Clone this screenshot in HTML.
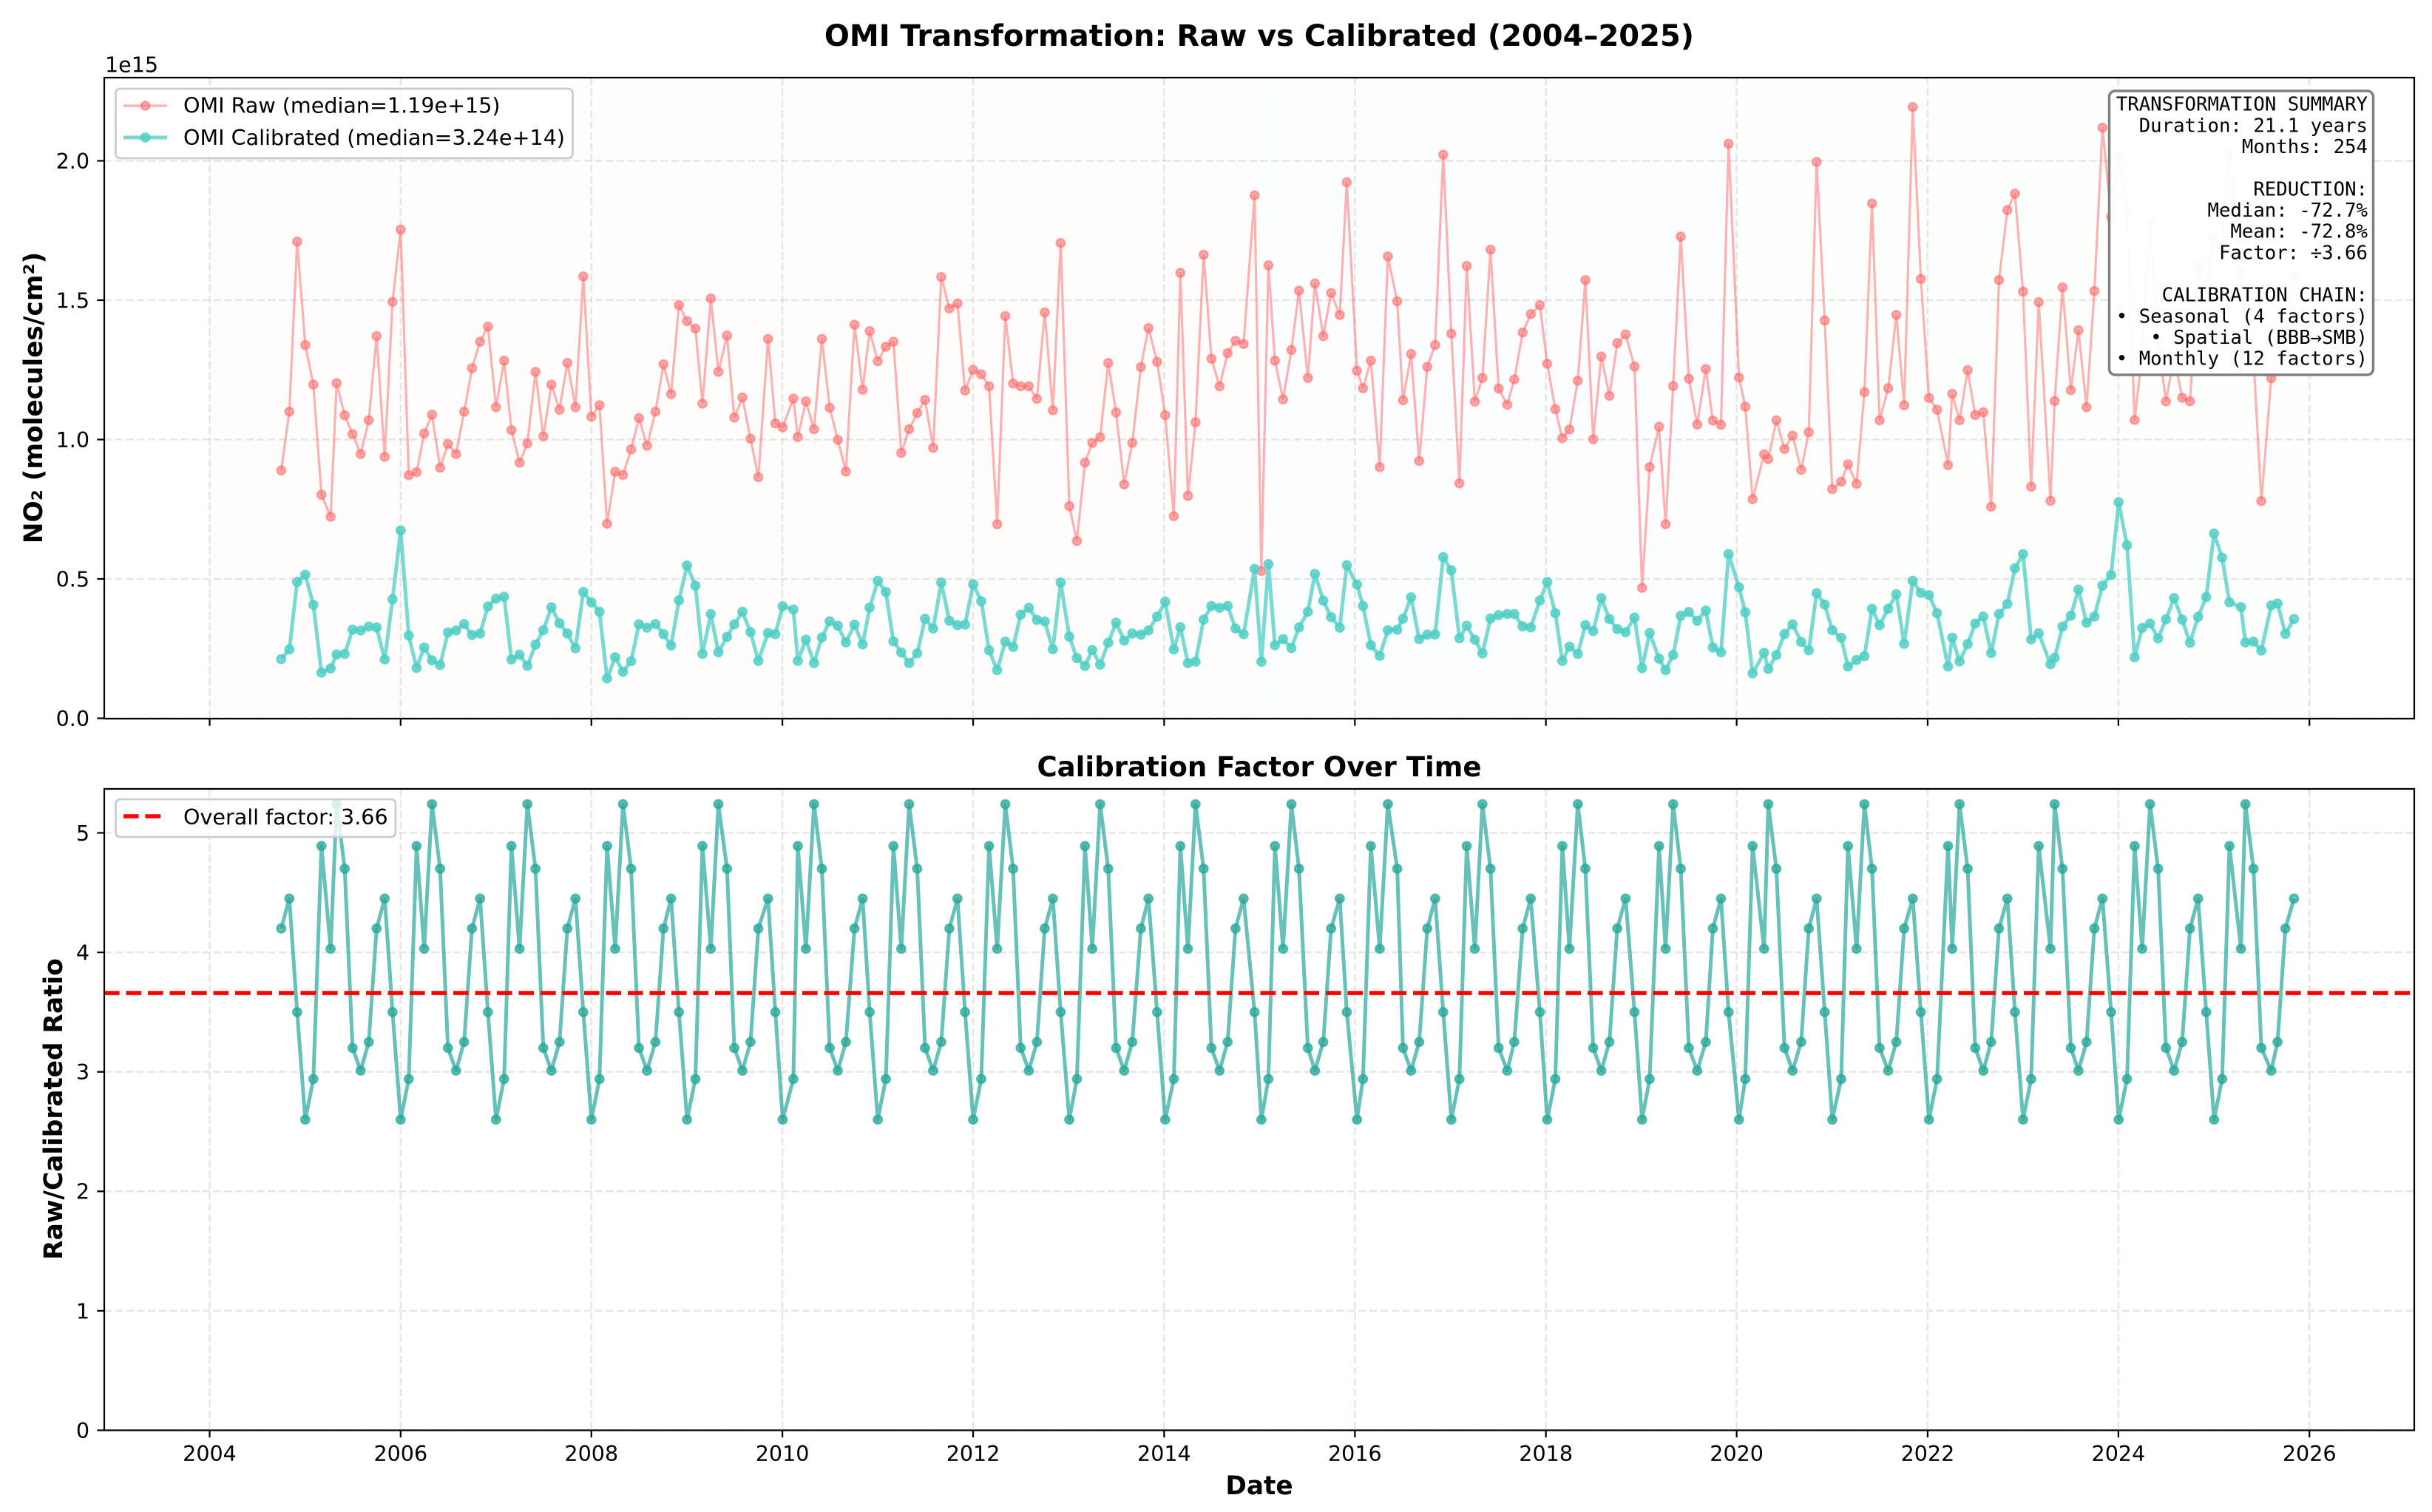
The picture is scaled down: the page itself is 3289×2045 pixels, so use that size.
<!DOCTYPE html>
<html lang="en">
<head>
<meta charset="utf-8">
<title>OMI Transformation: Raw vs Calibrated (2004–2025)</title>
<style>
html,body{margin:0;padding:0;background:#fff;}
svg{display:block;}
text{font-family:"DejaVu Sans","Liberation Sans",sans-serif;fill:#000;}
.mono{font-family:"DejaVu Sans Mono","Liberation Mono",monospace;font-size:25.7px;text-anchor:end;}
</style>
</head>
<body>
<svg id="chart" xmlns="http://www.w3.org/2000/svg" width="3289" height="2045" viewBox="0 0 3289 2045">
<rect x="0" y="0" width="3289" height="2045" fill="#fff"/>
<text x="1703" y="62" text-anchor="middle" font-size="40" font-weight="bold">OMI Transformation: Raw vs Calibrated (2004–2025)</text>
<g id="top-back"></g>
<g id="top-marks"></g>
<g id="top-axes"></g>
<text x="142" y="97.5" font-size="28.57">1e15</text>
<text transform="translate(45,538) rotate(-90)" y="12" text-anchor="middle" font-size="34.3" font-weight="bold">NO₂ (molecules/cm²)</text>

<g>
<rect x="156.5" y="120" width="618" height="94" rx="6" ry="6" fill="#fff" fill-opacity="0.8" stroke="#cccccc" stroke-width="2.8"/>
<g>
<line x1="167" y1="143" x2="226" y2="143" stroke="#FF6B6B" stroke-opacity="0.52" stroke-width="3.2"/>
<circle cx="196.5" cy="143" r="5.55" fill="#FF6B6B" fill-opacity="0.55" stroke="#FF6B6B" stroke-opacity="0.55" stroke-width="2.86"/>
<text x="248" y="152.7" font-size="28.57">OMI Raw (median=1.19e+15)</text>
</g>
<g>
<line x1="167" y1="186" x2="226" y2="186" stroke="#4ECDC4" stroke-opacity="0.75" stroke-width="5"/>
<circle cx="196.5" cy="186" r="5.55" fill="#4ECDC4" fill-opacity="0.75" stroke="#4ECDC4" stroke-opacity="0.75" stroke-width="2.86"/>
<text x="248" y="196.2" font-size="28.57">OMI Calibrated (median=3.24e+14)</text>
</g>
</g>

<g>
<rect x="2852.5" y="123" width="357" height="384" rx="8" ry="8" fill="#fff" fill-opacity="0.95" stroke="#808080" stroke-width="3.5"/>
<text class="mono" x="3202" y="149.7">TRANSFORMATION SUMMARY</text>
<text class="mono" x="3202" y="178.4">Duration: 21.1 years</text>
<text class="mono" x="3202" y="207">Months: 254</text>
<text class="mono" x="3202" y="264.4">REDUCTION:</text>
<text class="mono" x="3202" y="293">Median: -72.7%</text>
<text class="mono" x="3202" y="321.7">Mean: -72.8%</text>
<text class="mono" x="3202" y="350.4">Factor: ÷3.66</text>
<text class="mono" x="3202" y="407.7">CALIBRATION CHAIN:</text>
<text class="mono" x="3202" y="436.4">• Seasonal (4 factors)</text>
<text class="mono" x="3202" y="465">• Spatial (BBB→SMB)</text>
<text class="mono" x="3202" y="493.7">• Monthly (12 factors)</text>
</g>

<text x="1703" y="1050" text-anchor="middle" font-size="37.1" font-weight="bold">Calibration Factor Over Time</text>
<g id="bottom-back"></g>
<g id="bottom-marks"></g>
<g id="bottom-axes"></g>
<text transform="translate(72,1500) rotate(-90)" y="12" text-anchor="middle" font-size="34.3" font-weight="bold">Raw/Calibrated Ratio</text>
<text x="1703" y="2021" text-anchor="middle" font-size="34.3" font-weight="bold">Date</text>

<g>
<rect x="156.5" y="1081" width="378.5" height="51" rx="6" ry="6" fill="#fff" fill-opacity="0.8" stroke="#cccccc" stroke-width="2.8"/>
<g>
<line x1="167" y1="1104" x2="226" y2="1104" stroke="#ff0000" stroke-width="5.56" stroke-dasharray="20.6 8.9"/>
<text x="248" y="1115" font-size="28.57">Overall factor: 3.66</text>
</g>
</g>
</svg>

<script>
const dates = [
"2004-10-01","2004-11-01","2004-12-01",
"2005-01-01","2005-02-01","2005-03-04","2005-04-08","2005-05-01","2005-06-01","2005-07-01","2005-08-01","2005-09-01","2005-10-01","2005-11-01","2005-12-01",
"2006-01-01","2006-02-01","2006-03-03","2006-04-01","2006-05-01","2006-06-01","2006-07-01","2006-08-01","2006-09-01","2006-10-01","2006-11-01","2006-12-01",
"2007-01-01","2007-02-01","2007-03-01","2007-04-01","2007-05-01","2007-06-01","2007-07-01","2007-08-01","2007-09-01","2007-10-01","2007-11-01","2007-12-01",
"2008-01-01","2008-02-01","2008-03-01","2008-04-01","2008-05-01","2008-06-01","2008-07-01","2008-08-01","2008-09-02","2008-10-03","2008-11-01","2008-12-01",
"2009-01-01","2009-02-02","2009-03-01","2009-04-02","2009-05-01","2009-06-03","2009-07-01","2009-08-01","2009-09-01","2009-10-01","2009-11-07","2009-12-05",
"2010-01-02","2010-02-12","2010-03-01","2010-04-01","2010-05-02","2010-06-01","2010-07-01","2010-08-01","2010-09-01","2010-10-04","2010-11-04","2010-12-01",
"2011-01-01","2011-02-01","2011-03-02","2011-04-01","2011-05-01","2011-06-01","2011-07-01","2011-08-01","2011-09-01","2011-10-02","2011-11-02","2011-12-01",
"2012-01-01","2012-02-01","2012-03-02","2012-04-02","2012-05-03","2012-06-02","2012-07-01","2012-08-01","2012-09-01","2012-10-01","2012-11-01","2012-12-01",
"2013-01-03","2013-02-01","2013-03-04","2013-04-01","2013-05-01","2013-06-01","2013-07-01","2013-08-01","2013-09-01","2013-10-04","2013-11-02","2013-12-05",
"2014-01-05","2014-02-07","2014-03-04","2014-04-02","2014-05-01","2014-06-01","2014-07-01","2014-08-01","2014-09-01","2014-10-01","2014-11-01","2014-12-13",
"2015-01-08","2015-02-04","2015-03-01","2015-04-01","2015-05-03","2015-06-01","2015-07-05","2015-08-01","2015-09-02","2015-10-02","2015-11-04","2015-12-01",
"2016-01-09","2016-02-01","2016-03-02","2016-04-05","2016-05-06","2016-06-11","2016-07-03","2016-08-03","2016-09-03","2016-10-04","2016-11-03","2016-12-04",
"2017-01-04","2017-02-04","2017-03-04","2017-04-04","2017-05-03","2017-06-03","2017-07-04","2017-08-06","2017-09-02","2017-10-04","2017-11-04","2017-12-09",
"2018-01-06","2018-02-06","2018-03-05","2018-04-01","2018-05-03","2018-06-01","2018-07-01","2018-08-01","2018-09-01","2018-10-01","2018-11-02","2018-12-06",
"2019-01-04","2019-02-02","2019-03-10","2019-04-04","2019-05-03","2019-06-01","2019-07-02","2019-08-03","2019-09-05","2019-10-02","2019-11-02","2019-12-01",
"2020-01-10","2020-02-03","2020-03-02","2020-04-15","2020-05-01","2020-06-01","2020-07-02","2020-08-02","2020-09-04","2020-10-03","2020-11-02","2020-12-03",
"2021-01-01","2021-02-04","2021-03-02","2021-04-04","2021-05-04","2021-06-02","2021-07-01","2021-08-03","2021-09-03","2021-10-03","2021-11-05","2021-12-06",
"2022-01-06","2022-02-06","2022-03-20","2022-04-05","2022-05-03","2022-06-03","2022-07-02","2022-08-02","2022-09-01","2022-10-01","2022-11-02","2022-12-01",
"2023-01-01","2023-02-01","2023-03-02","2023-04-16","2023-05-02","2023-06-01","2023-07-03","2023-08-01","2023-09-01","2023-10-01","2023-11-01","2023-12-04",
"2024-01-02","2024-02-03","2024-03-03","2024-04-01","2024-05-01","2024-06-01","2024-07-01","2024-08-01","2024-09-01","2024-10-01","2024-11-01","2024-12-02",
"2025-01-01","2025-02-01","2025-03-01","2025-04-14","2025-05-01","2025-06-01","2025-07-01","2025-08-08","2025-09-01","2025-10-01","2025-11-03"
];
/* NO2 columns in units of 1e15 molecules/cm2 */
const rawValues = [
.889,1.100,1.710,
1.339,1.197,.802,.723,1.202,1.087,1.019,.948,1.069,1.371,.938,1.494,
1.753,.872,.883,1.022,1.089,.899,.984,.948,1.100,1.256,1.351,1.405,
1.116,1.283,1.034,.917,.986,1.243,1.011,1.197,1.107,1.275,1.116,1.585,
1.082,1.123,.698,.884,.873,.965,1.077,.978,1.100,1.270,1.163,1.482,
1.425,1.398,1.129,1.506,1.243,1.373,1.079,1.151,1.003,.865,1.361,1.058,
1.044,1.147,1.009,1.137,1.037,1.361,1.114,.999,.885,1.412,1.179,1.389,
1.281,1.333,1.351,.952,1.037,1.095,1.142,.970,1.583,1.470,1.488,1.176,
1.250,1.234,1.191,.696,1.443,1.201,1.191,1.191,1.146,1.456,1.105,1.705,
.761,.636,.917,.988,1.008,1.275,1.097,.839,.988,1.260,1.400,1.279,
1.088,.725,1.598,.798,1.062,1.663,1.290,1.191,1.310,1.354,1.343,1.876,
.528,1.625,1.283,1.144,1.321,1.534,1.221,1.560,1.371,1.526,1.447,1.923,
1.247,1.184,1.283,.901,1.657,1.496,1.141,1.307,.923,1.261,1.339,2.022,
1.380,.843,1.623,1.136,1.221,1.681,1.183,1.125,1.216,1.384,1.450,1.482,
1.272,1.109,1.005,1.036,1.211,1.572,1.001,1.298,1.157,1.346,1.377,1.262,
.468,.901,1.046,.696,1.192,1.728,1.218,1.054,1.253,1.068,1.053,2.061,
1.222,1.118,.786,.947,.930,1.069,.966,1.014,.891,1.026,1.996,1.427,
.822,.849,.911,.841,1.170,1.847,1.069,1.184,1.447,1.123,2.193,1.576,
1.149,1.107,.908,1.164,1.069,1.249,1.088,1.098,.759,1.572,1.823,1.882,
1.531,.831,1.493,.780,1.138,1.546,1.177,1.392,1.116,1.533,2.119,1.799,
2.015,1.825,1.070,1.306,1.782,1.349,1.137,1.297,1.150,1.137,1.622,1.523,
1.724,1.693,2.033,1.608,1.426,1.292,.779,1.220,1.339,1.273,1.582
];
const calibratedValues = [
.212,.247,.489,
.515,.407,.164,.179,.229,.231,.318,.315,.329,.326,.211,.427,
.674,.297,.181,.254,.208,.191,.308,.315,.338,.299,.304,.401,
.429,.436,.211,.228,.188,.264,.316,.398,.341,.304,.251,.453,
.416,.382,.143,.219,.167,.205,.337,.325,.338,.302,.261,.423,
.548,.476,.231,.374,.237,.292,.337,.382,.309,.206,.306,.302,
.402,.390,.206,.282,.198,.290,.348,.332,.272,.336,.265,.397,
.493,.453,.276,.236,.198,.233,.357,.322,.487,.350,.334,.336,
.481,.420,.244,.173,.275,.256,.372,.396,.353,.347,.248,.487,
.293,.216,.188,.245,.192,.271,.343,.279,.304,.300,.315,.365,
.418,.247,.327,.198,.203,.354,.403,.396,.403,.322,.302,.536,
.203,.553,.262,.284,.252,.326,.382,.518,.422,.363,.325,.549,
.480,.403,.262,.224,.316,.318,.357,.434,.284,.300,.301,.578,
.531,.287,.332,.282,.233,.358,.370,.374,.374,.330,.326,.423,
.489,.377,.206,.257,.231,.334,.313,.431,.356,.320,.309,.361,
.180,.306,.214,.173,.227,.368,.381,.350,.386,.254,.237,.589,
.470,.380,.161,.235,.177,.227,.302,.337,.274,.244,.449,.408,
.316,.289,.186,.209,.223,.393,.334,.393,.445,.267,.493,.450,
.442,.377,.186,.289,.204,.266,.340,.365,.234,.374,.410,.538,
.589,.283,.305,.194,.217,.329,.368,.462,.343,.365,.476,.514,
.775,.621,.219,.324,.340,.287,.355,.431,.354,.271,.364,.435,
.663,.576,.416,.399,.272,.275,.243,.405,.412,.303,.356
];
const factorValues = [
4.20,4.45,3.50,
2.60,2.94,4.89,4.03,5.24,4.70,3.20,3.01,3.25,4.20,4.45,3.50,
2.60,2.94,4.89,4.03,5.24,4.70,3.20,3.01,3.25,4.20,4.45,3.50,
2.60,2.94,4.89,4.03,5.24,4.70,3.20,3.01,3.25,4.20,4.45,3.50,
2.60,2.94,4.89,4.03,5.24,4.70,3.20,3.01,3.25,4.20,4.45,3.50,
2.60,2.94,4.89,4.03,5.24,4.70,3.20,3.01,3.25,4.20,4.45,3.50,
2.60,2.94,4.89,4.03,5.24,4.70,3.20,3.01,3.25,4.20,4.45,3.50,
2.60,2.94,4.89,4.03,5.24,4.70,3.20,3.01,3.25,4.20,4.45,3.50,
2.60,2.94,4.89,4.03,5.24,4.70,3.20,3.01,3.25,4.20,4.45,3.50,
2.60,2.94,4.89,4.03,5.24,4.70,3.20,3.01,3.25,4.20,4.45,3.50,
2.60,2.94,4.89,4.03,5.24,4.70,3.20,3.01,3.25,4.20,4.45,3.50,
2.60,2.94,4.89,4.03,5.24,4.70,3.20,3.01,3.25,4.20,4.45,3.50,
2.60,2.94,4.89,4.03,5.24,4.70,3.20,3.01,3.25,4.20,4.45,3.50,
2.60,2.94,4.89,4.03,5.24,4.70,3.20,3.01,3.25,4.20,4.45,3.50,
2.60,2.94,4.89,4.03,5.24,4.70,3.20,3.01,3.25,4.20,4.45,3.50,
2.60,2.94,4.89,4.03,5.24,4.70,3.20,3.01,3.25,4.20,4.45,3.50,
2.60,2.94,4.89,4.03,5.24,4.70,3.20,3.01,3.25,4.20,4.45,3.50,
2.60,2.94,4.89,4.03,5.24,4.70,3.20,3.01,3.25,4.20,4.45,3.50,
2.60,2.94,4.89,4.03,5.24,4.70,3.20,3.01,3.25,4.20,4.45,3.50,
2.60,2.94,4.89,4.03,5.24,4.70,3.20,3.01,3.25,4.20,4.45,3.50,
2.60,2.94,4.89,4.03,5.24,4.70,3.20,3.01,3.25,4.20,4.45,3.50,
2.60,2.94,4.89,4.03,5.24,4.70,3.20,3.01,3.25,4.20,4.45
];
const overallFactor = [3.66];
const xTickYears = [2004,2006,2008,2010,2012,2014,2016,2018,2020,2022,2024,2026];
const topTickValues = [0,0.5,1,1.5,2];
const topTickLabels = ["0.0","0.5","1.0","1.5","2.0"];
const bottomTickValues = [0,1,2,3,4,5];
const bottomTickLabels = ["0","1","2","3","4","5"];
const periodStarts = ["2004-01-01","2015-01-01","2020-01-01"];
const periodEnds = ["2015-01-01","2020-01-01","2026-01-01"];
const periodNames = ["period-band-early","period-band-middle","period-band-recent"];
const periodColors = ["#fffdfc","#fcfdff","#fdfffd"];

const NS = "http://www.w3.org/2000/svg";
const PANEL_LEFT = 141, PANEL_RIGHT = 3265;
const TOP_PANEL = {top: 105, bottom: 972};
const BOTTOM_PANEL = {top: 1067, bottom: 1934.5};

function days(d){ return Date.parse(d + "T00:00:00Z") / 86400000; }
function xScale(dateStr){
  return 283.5 + (days(dateStr) - days("2004-01-01")) * 129.07 / 365.25;
}
function yTop(v){ return 971.5 - 377 * v; }
function yBottom(v){ return 1934.5 - 161.6 * v; }

function make(parent, tag, attrs, txt){
  const el = document.createElementNS(NS, tag);
  for (const k in attrs) el.setAttribute(k, attrs[k]);
  if (txt !== undefined) el.textContent = txt;
  parent.appendChild(el);
  return el;
}

function drawGridAndAxes(backGroup, axesGroup, panel, yScale, yTicks, yLabels, showXLabels, prefix){
  xTickYears.forEach(function(yr){
    const x = xScale(yr + "-01-01");
    const g = make(backGroup, "line", {x1:x, y1:panel.top, x2:x, y2:panel.bottom, stroke:"#b0b0b0", "stroke-opacity":0.3, "stroke-width":2.6, "stroke-dasharray":"10.3 4.45"});
    
    
    const t = make(axesGroup, "line", {x1:x, y1:panel.bottom, x2:x, y2:panel.bottom + 9.7, stroke:"#000", "stroke-width":2.22});
    
    
    if (showXLabels){
      const lb = make(axesGroup, "text", {x:x, y:1976, "text-anchor":"middle", "font-size":28.57}, String(yr));
      
      
    }
  });
  yTicks.forEach(function(v, i){
    const y = yScale(v);
    const g = make(backGroup, "line", {x1:PANEL_LEFT, y1:y, x2:PANEL_RIGHT, y2:y, stroke:"#b0b0b0", "stroke-opacity":0.3, "stroke-width":2.6, "stroke-dasharray":"10.3 4.45"});
    
    
    const t = make(axesGroup, "line", {x1:PANEL_LEFT - 9.7, y1:y, x2:PANEL_LEFT, y2:y, stroke:"#000", "stroke-width":2.22});
    
    
    const lb = make(axesGroup, "text", {x:121, y:y + 10.4, "text-anchor":"end", "font-size":28.57}, yLabels[i]);
    
    
  });
  const frame = make(axesGroup, "rect", {x:PANEL_LEFT, y:panel.top, width:PANEL_RIGHT - PANEL_LEFT, height:panel.bottom - panel.top, fill:"none", stroke:"#000", "stroke-width":2.22});
  
  
}

function drawSeries(group, values, yScale, color, lineOpacity, lineWidth, markerOpacity, name){
  const pts = values.map(function(v, i){ return xScale(dates[i]).toFixed(2) + "," + yScale(v).toFixed(2); }).join(" ");
  const line = make(group, "polyline", {points:pts, fill:"none", stroke:color, "stroke-opacity":lineOpacity, "stroke-width":lineWidth, "stroke-linejoin":"round"});
  
  
  values.forEach(function(v, i){
    const c = make(group, "circle", {cx:xScale(dates[i]).toFixed(2), cy:yScale(v).toFixed(2), r:5.55, fill:color, "fill-opacity":markerOpacity, stroke:color, "stroke-opacity":markerOpacity, "stroke-width":2.86});
    
    
  });
}

const topBack = document.getElementById("top-back");
const topMarks = document.getElementById("top-marks");
const topAxes = document.getElementById("top-axes");
const bottomBack = document.getElementById("bottom-back");
const bottomMarks = document.getElementById("bottom-marks");
const bottomAxes = document.getElementById("bottom-axes");

periodStarts.forEach(function(s, i){
  const x1 = xScale(s), x2 = xScale(periodEnds[i]);
  const band = make(topBack, "rect", {x:x1, y:TOP_PANEL.top, width:x2 - x1, height:TOP_PANEL.bottom - TOP_PANEL.top, fill:periodColors[i]});
  
  
});

drawGridAndAxes(topBack, topAxes, TOP_PANEL, yTop, topTickValues, topTickLabels, false, 'top');
drawGridAndAxes(bottomBack, bottomAxes, BOTTOM_PANEL, yBottom, bottomTickValues, bottomTickLabels, true, 'bottom');

drawSeries(topMarks, rawValues, yTop, "#FF6B6B", 0.52, 3.2, 0.55, 'omi-raw');
drawSeries(topMarks, calibratedValues, yTop, "#4ECDC4", 0.75, 5, 0.75, 'omi-calibrated');
drawSeries(bottomMarks, factorValues, yBottom, "#26A69A", 0.7, 5, 0.7, 'calibration-factor');

const refLine = make(bottomMarks, "line", {x1:PANEL_LEFT, y1:yBottom(overallFactor[0]), x2:PANEL_RIGHT, y2:yBottom(overallFactor[0]), stroke:"#ff0000", "stroke-width":5.56, "stroke-dasharray":"20.6 8.9"});


</script>
</body>
</html>
